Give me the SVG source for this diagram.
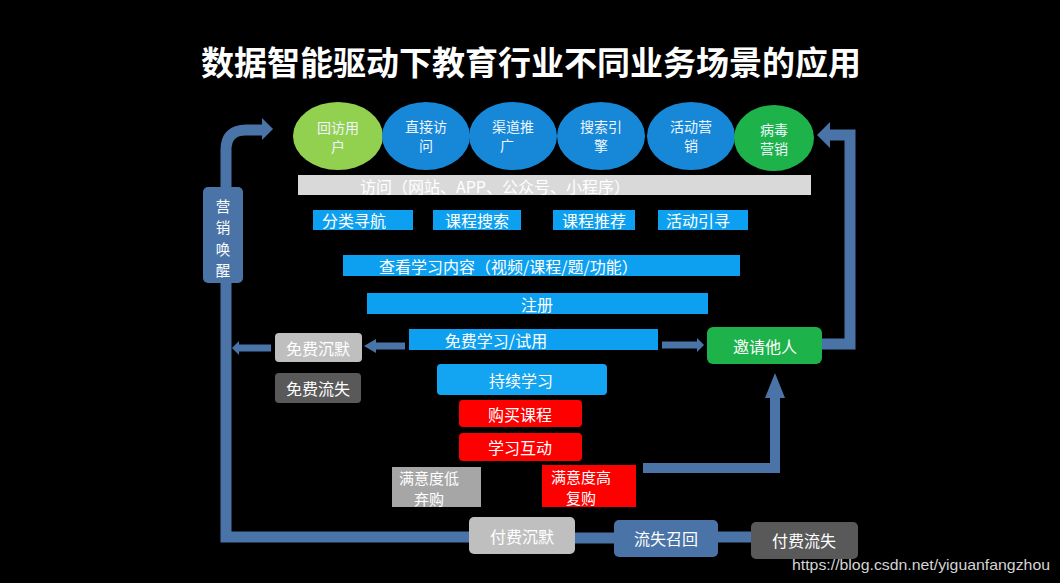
<svg xmlns="http://www.w3.org/2000/svg" width="1060" height="583" viewBox="0 0 1060 583">
<style>
text{font-family:"Noto Sans CJK SC","Liberation Sans",sans-serif;fill:#ffffff;text-anchor:middle;dominant-baseline:central;font-size:16px}
.t{font-size:33px;font-weight:bold}
.e{font-size:14px;fill:#eef6ff}
.v{font-size:14.5px}
.m{font-size:15px}
.bar{fill:#0ea0f0}
.red{fill:#ff0000}
.ln{fill:none;stroke:#4a74a8;stroke-width:11}
.thin{fill:none;stroke:#4a74a8;stroke-width:7}
.hd{fill:#4a74a8}
.wm{font-family:"Liberation Sans",sans-serif;font-size:15px;fill:#d4d4d4;text-anchor:start;dominant-baseline:alphabetic}
</style>
<rect width="1060" height="583" fill="#000000"/>
<text class="t" x="531" y="61">数据智能驱动下教育行业不同业务场景的应用</text>

<g id="connectors">
  <path class="ln" d="M470,537 L226,537 L226,150 Q226,130 246,130 L263,130"/>
  <polygon class="hd" points="262,118 273,129 262,140"/>
  <path class="ln" d="M574,538 L616,538"/>
  <path class="ln" d="M716,537 L753,537"/>
  <path class="ln" d="M820,344 L850,344 L850,135 L829,135"/>
  <polygon class="hd" points="830,122 817,135 830,148"/>
  <path class="ln" style="stroke-width:10" d="M643,468 L775,468 L775,396"/>
  <polygon class="hd" points="765,398 775,373 785,398"/>
  <path class="thin" d="M662,345 L698,345"/>
  <polygon class="hd" points="697,338 704,345 697,352"/>
  <path class="thin" d="M405,346 L374,346"/>
  <polygon class="hd" points="376,339 364,346 376,353"/>
  <path class="thin" d="M271,348 L237,348"/>
  <polygon class="hd" points="239,341 232,348 239,355"/>
</g>

<g id="n-huifang"><ellipse cx="338" cy="136" rx="45" ry="34" fill="#92d050"/><text class="e" x="338" y="127">回访用</text><text class="e" x="338" y="146">户</text></g>
<g id="n-zhijie"><ellipse cx="426" cy="136" rx="44" ry="34" fill="#1788d8"/><text class="e" x="426" y="126">直接访</text><text class="e" x="426" y="145">问</text></g>
<g id="n-qudao"><ellipse cx="513" cy="136" rx="44" ry="34" fill="#1788d8"/><text class="e" x="513" y="126">渠道推</text><text class="e" x="507" y="145">广</text></g>
<g id="n-sousuo"><ellipse cx="601" cy="136" rx="44" ry="34" fill="#1788d8"/><text class="e" x="601" y="126">搜索引</text><text class="e" x="601" y="145">擎</text></g>
<g id="n-huodong"><ellipse cx="691" cy="136" rx="44" ry="34" fill="#1788d8"/><text class="e" x="691" y="126">活动营</text><text class="e" x="691" y="145">销</text></g>
<g id="n-bingdu"><ellipse cx="774" cy="138" rx="40" ry="33" fill="#1db34a"/><text class="e" x="774" y="129">病毒</text><text class="e" x="774" y="148">营销</text></g>

<g id="n-fangwen"><rect x="298" y="175" width="513" height="20" fill="#d9d9d9"/><text x="360" y="186" style="text-anchor:start">访问（网站、APP、公众号、小程序）</text></g>

<g id="n-fenlei"><rect class="bar" x="313" y="210" width="100" height="20"/><text x="354" y="220">分类寻航</text></g>
<g id="n-kcss"><rect class="bar" x="433" y="210" width="88" height="20"/><text x="477" y="220">课程搜索</text></g>
<g id="n-kctj"><rect class="bar" x="553" y="210" width="82" height="20"/><text x="594" y="220">课程推荐</text></g>
<g id="n-hdyx"><rect class="bar" x="658" y="210" width="90" height="20"/><text x="698" y="220">活动引寻</text></g>

<g id="n-chakan"><rect class="bar" x="343" y="255" width="397" height="21"/><text x="379" y="266" style="text-anchor:start">查看学习内容（视频/课程/题/功能）</text></g>
<g id="n-zhuce"><rect class="bar" x="367" y="293" width="341" height="21"/><text x="537" y="304">注册</text></g>
<g id="n-mianfei"><rect class="bar" x="409" y="329" width="249" height="21"/><text x="496" y="340">免费学习/试用</text></g>

<g id="n-mfcm"><rect x="275" y="333" width="87" height="29" rx="4" fill="#bfbfbf"/><text x="318" y="348">免费沉默</text></g>
<g id="n-mfls"><rect x="275" y="373" width="86" height="30" rx="4" fill="#595959"/><text x="318" y="388">免费流失</text></g>
<g id="n-yingxiao"><rect x="203" y="187" width="40" height="96" rx="5" fill="#4a74a8"/><text class="v" x="223" y="205">营</text><text class="v" x="223" y="226.5">销</text><text class="v" x="223" y="248">唤</text><text class="v" x="223" y="269.5">醒</text></g>

<g id="n-yaoqing"><rect x="707" y="327" width="115" height="37" rx="6" fill="#1db34a"/><text x="765" y="346">邀请他人</text></g>
<g id="n-chixu"><rect x="437" y="364" width="170" height="31" rx="4" fill="#14a5f2"/><text x="521" y="380">持续学习</text></g>
<g id="n-goumai"><rect class="red" x="459" y="400" width="123" height="27" rx="4"/><text x="520" y="414">购买课程</text></g>
<g id="n-hudong"><rect class="red" x="459" y="433" width="123" height="28" rx="4"/><text x="520" y="447">学习互动</text></g>
<g id="n-di"><rect x="392" y="467" width="89" height="40" fill="#a6a6a6"/><text class="m" x="429" y="477">满意度低</text><text class="m" x="429" y="498">弃购</text></g>
<g id="n-gao"><rect class="red" x="542" y="465" width="94" height="42"/><text class="m" x="581" y="476">满意度高</text><text class="m" x="581" y="497">复购</text></g>

<g id="n-ffcm"><rect x="469" y="517" width="106" height="37" rx="5" fill="#bfbfbf"/><text x="522" y="536">付费沉默</text></g>
<g id="n-lszh"><rect x="614" y="520" width="104" height="37" rx="5" fill="#4a74a8"/><text x="666" y="538">流失召回</text></g>
<g id="n-ffls"><rect x="751" y="522" width="107" height="37" rx="5" fill="#595959"/><text x="804" y="540">付费流失</text></g>

<text class="wm" x="792" y="570" textLength="258" lengthAdjust="spacingAndGlyphs">https://blog.csdn.net/yiguanfangzhou</text>
</svg>
